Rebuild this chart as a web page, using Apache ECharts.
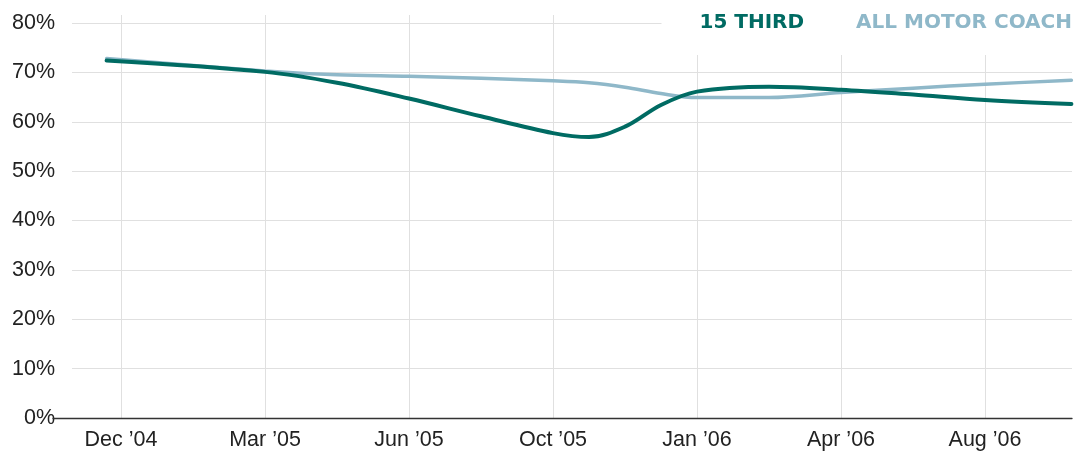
<!DOCTYPE html>
<html>
<head>
<meta charset="utf-8">
<title>15 Third vs All Motor Coach</title>
<script src="https://cdn.jsdelivr.net/npm/echarts@6/dist/echarts.min.js"></script>
<style>
	html, body { margin: 0; padding: 0; background: #fff; }
	#main { width: 1077px; height: 451px; }
</style>
</head>
<body>
<div id="main"></div>
<script>
	// labels along the bottom, one per step
	var tickLabels = ["Dec ’04", "Mar ’05", "Jun ’05", "Oct ’05", "Jan ’06", "Apr ’06", "Aug ’06"];
	// where each reading sits, counted in label steps (0 = Dec '04)
	var positions = [-0.1, 1, 1.5, 2, 2.5, 3, 3.25, 3.5, 3.75, 4, 4.5, 5, 5.5, 6, 6.6];
	var thirdValues = [72.4, 70.1, 67.9, 64.7, 61.1, 57.7, 56.9, 59.0, 63.4, 66.1, 67.1, 66.5, 65.5, 64.4, 63.6];
	var coachValues = [72.8, 70.3, 69.5, 69.2, 68.8, 68.3, 67.9, 67.0, 65.7, 64.9, 64.9, 65.9, 66.8, 67.6, 68.4];
	var seriesNames = ["15 THIRD", "ALL MOTOR COACH"];
	var seriesColors = ["#006b63", "#8fb8c9"];

	// page layout (pixels)
	var firstTickX = 121, stepPx = 144;
	var gridLeft = 72, axisLeft = 53, plotRight = 1072;

	function unitAt(px) {
		return (px - firstTickX) / stepPx;
	}
	function pairs(values) {
		return values.map(function(v, i){
			return [positions[i], v];
		});
	}
	var tickPositions = tickLabels.map(function(l, i){ return i; });

	var labelFont = "'Liberation Sans', Arial, sans-serif";
	var myChart = echarts.init(document.getElementById('main'));

	myChart.setOption({
		animation: false,
		grid: [
			{ left: gridLeft, right: 1077 - plotRight, top: 23, bottom: 33 },
			{ left: axisLeft, right: 1077 - plotRight, top: 15, bottom: 33 }
		],
		legend: {
			right: 0,
			top: 0,
			padding: [13, 5, 22, 33],
			backgroundColor: '#fff',
			icon: 'none',
			itemWidth: 0,
			itemHeight: 20,
			itemGap: 47,
			selectedMode: false,
			textStyle: {
				fontFamily: "'DejaVu Sans', sans-serif",
				fontWeight: 'bold',
				fontSize: 20
			},
			data: [
				{ name: seriesNames[0], textStyle: { color: seriesColors[0] } },
				{ name: seriesNames[1], textStyle: { color: seriesColors[1] } }
			]
		},
		xAxis: [
			{
				gridIndex: 0,
				type: 'value',
				min: unitAt(gridLeft),
				max: unitAt(plotRight),
				show: false
			},
			{
				gridIndex: 1,
				type: 'value',
				min: unitAt(axisLeft),
				max: unitAt(plotRight),
				z: 2,
				axisLine: { show: true, lineStyle: { color: '#333', width: 1.3 } },
				axisTick: { show: false, customValues: tickPositions },
				axisLabel: {
					customValues: tickPositions,
					margin: 11,
					color: '#222',
					fontFamily: labelFont,
					fontSize: 21.5,
					formatter: function(v) {
						return tickLabels[Math.round(v)];
					}
				},
				splitLine: { show: true, lineStyle: { color: '#e0e0e0', width: 1 } }
			}
		],
		yAxis: [
			{
				gridIndex: 0,
				type: 'value',
				min: 0,
				max: 80,
				interval: 10,
				axisLine: { show: false },
				axisTick: { show: false },
				axisLabel: {
					margin: 17,
					color: '#222',
					fontFamily: labelFont,
					fontSize: 21.5,
					formatter: '{value}%'
				},
				splitLine: { lineStyle: { color: '#e0e0e0', width: 1 } }
			},
			{
				gridIndex: 1,
				type: 'value',
				show: false,
				splitLine: { show: false }
			}
		],
		series: [
			{
				name: seriesNames[1],
				type: 'line',
				xAxisIndex: 0,
				yAxisIndex: 0,
				smooth: 0.35,
				showSymbol: false,
				lineStyle: { color: seriesColors[1], width: 3.5, cap: 'round' },
				itemStyle: { color: seriesColors[1] },
				data: pairs(coachValues)
			},
			{
				name: seriesNames[0],
				type: 'line',
				xAxisIndex: 0,
				yAxisIndex: 0,
				smooth: 0.35,
				showSymbol: false,
				lineStyle: { color: seriesColors[0], width: 4, cap: 'round' },
				itemStyle: { color: seriesColors[0] },
				data: pairs(thirdValues)
			}
		]
	});
</script>
</body>
</html>
